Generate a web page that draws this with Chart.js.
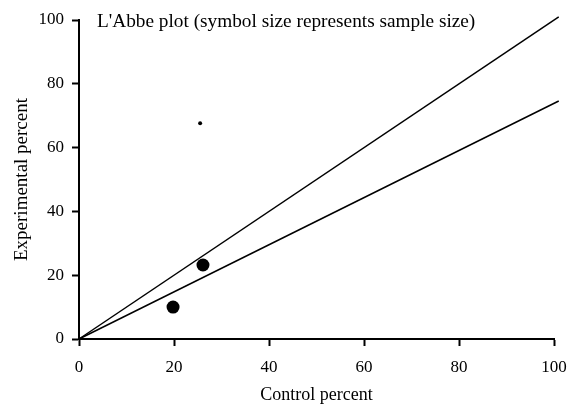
<!DOCTYPE html>
<html>
<head>
<meta charset="utf-8">
<script src="https://cdn.jsdelivr.net/npm/chart.js@4"></script>
<style>
  html, body { margin: 0; padding: 0; background: #fff; }
  #wrap { width: 570px; height: 414px; }
</style>
</head>
<body>
<div id="wrap"><canvas id="myChart" width="570" height="414"></canvas></div>
<script>
// du lieu doc tu hinh
const studyControl = [25.5, 26.1, 19.8];
const studyExperimental = [67.6, 23.2, 10.0];
const studyRadius = [2, 6.5, 6.5];

// duong tham chieu: y = x va duong hoi quy qua goc
const lineX = [0, 101];
const equalityY = [0, 101];
const fittedY = [0, 74.6];

const xTicks = [0, 20, 40, 60, 80, 100];
const yTicks = [0, 20, 40, 60, 80, 100];

const titleText = "L'Abbe plot (symbol size represents sample size)";
const fontFamily = "'Liberation Serif', 'Times New Roman', serif";

const points = studyControl.map((x, i) => ({ x: x, y: studyExperimental[i] }));

// ve tieu de ben trong vung do thi
const innerTitle = {
  id: 'innerTitle',
  afterDraw(chart) {
    const c = chart.ctx;
    c.save();
    c.font = '19.3px ' + fontFamily;
    c.fillStyle = '#000';
    c.textBaseline = 'alphabetic';
    c.fillText(titleText, 97, 27);
    c.restore();
  }
};

const ctx = document.getElementById('myChart').getContext('2d');

const chart = new Chart(ctx, {
  type: 'scatter',
  data: {
    datasets: [
      {
        type: 'line',
        data: lineX.map((x, i) => ({ x: x, y: equalityY[i] })),
        borderColor: '#000',
        borderWidth: 1.5,
        pointRadius: 0,
        clip: false
      },
      {
        type: 'line',
        data: lineX.map((x, i) => ({ x: x, y: fittedY[i] })),
        borderColor: '#000',
        borderWidth: 1.5,
        pointRadius: 0,
        clip: false
      },
      {
        data: points,
        backgroundColor: '#000',
        borderColor: '#000',
        borderWidth: 0,
        pointRadius: studyRadius,
        clip: false
      }
    ]
  },
  options: {
    animation: false,
    responsive: false,
    devicePixelRatio: 1,
    layout: { padding: { top: 20, right: 16, left: 0, bottom: 0 } },
    plugins: {
      legend: { display: false },
      tooltip: { enabled: false }
    },
    scales: {
      x: {
        type: 'linear',
        min: 0,
        max: 100,
        afterBuildTicks: (scale) => { scale.ticks = xTicks.map(v => ({ value: v })); },
        afterFit: (scale) => {
          scale.height = 75;
          scale.paddingLeft = 0;
          scale.paddingRight = 0;
        },
        border: { display: true, color: '#000', width: 2 },
        grid: { display: true, drawOnChartArea: false, drawTicks: true, tickLength: 7, tickWidth: 2, tickColor: '#000' },
        ticks: { color: '#000', padding: 11, maxRotation: 0, font: { family: fontFamily, size: 17 } },
        title: { display: true, text: 'Control percent', color: '#000', padding: { top: 0, bottom: 8 }, font: { family: fontFamily, size: 18 } }
      },
      y: {
        type: 'linear',
        min: 0,
        max: 100,
        afterBuildTicks: (scale) => { scale.ticks = yTicks.map(v => ({ value: v })); },
        afterFit: (scale) => {
          scale.width = 79;
          scale.paddingTop = 0;
          scale.paddingBottom = 0;
        },
        border: { display: true, color: '#000', width: 2 },
        grid: { display: true, drawOnChartArea: false, drawTicks: true, tickLength: 7, tickWidth: 2, tickColor: '#000' },
        ticks: { color: '#000', padding: 8, font: { family: fontFamily, size: 17 } },
        title: { display: true, text: 'Experimental percent', color: '#000', padding: { top: 11, bottom: 0 }, font: { family: fontFamily, size: 19 } }
      }
    }
  },
  plugins: [innerTitle]
});
</script>
</body>
</html>
